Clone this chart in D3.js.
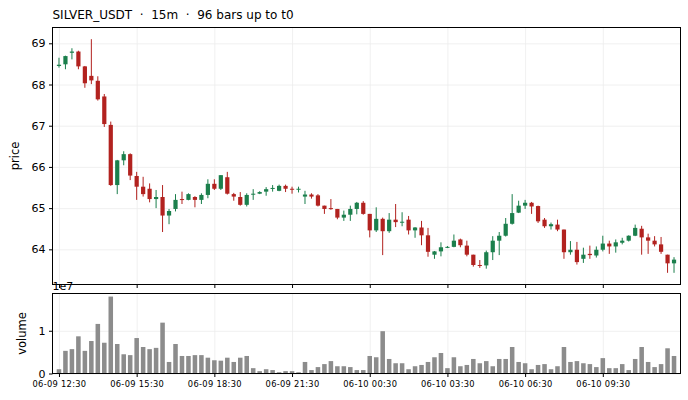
<html>

<head>
    <title>SILVER_USDT</title>
    <script src='https://d3js.org/d3.v7.min.js'></script>
    <style>
        body { margin: 0; background: #fff; }
        text { font-family: "DejaVu Sans", sans-serif; fill: #000; }
        .grid line { stroke: #ececec; stroke-width: 0.8; }
        .grid path { display: none; }
        .axis path, .axis line { stroke: #000; }
    </style>
</head>

<body>
    <svg id="chart" width="688" height="400"></svg>
    <script>
        // 15m bars, OHLC + volume
        var openP = [68.45, 68.49, 68.77, 68.80, 68.44, 68.21, 68.09, 67.71, 67.02, 65.56, 66.16, 66.31,
            65.78, 65.52, 65.47, 65.22, 65.27, 64.82, 64.98, 65.22, 65.20, 65.27, 65.20, 65.32,
            65.59, 65.47, 65.75, 65.34, 65.27, 65.08, 65.33, 65.35, 65.40, 65.47, 65.42, 65.54,
            65.47, 65.45, 65.28, 65.33, 65.31, 65.06, 65.00, 64.98, 64.77, 64.84, 64.98, 65.13,
            64.86, 64.46, 64.74, 64.44, 64.72, 64.66, 64.72, 64.46, 64.53, 64.34, 63.87, 63.95,
            64.05, 64.06, 64.24, 64.09, 63.87, 63.62, 63.61, 63.93, 64.21, 64.33, 64.62, 64.89,
            65.06, 65.13, 65.05, 64.72, 64.56, 64.60, 64.48, 63.93, 63.99, 63.77, 63.89, 63.85,
            63.99, 64.14, 64.07, 64.16, 64.21, 64.33, 64.50, 64.29, 64.21, 64.12, 63.87, 63.66];
        var highP = [68.65, 68.70, 68.88, 68.82, 68.45, 69.10, 68.20, 67.77, 67.10, 66.17, 66.38, 66.33,
            65.88, 65.76, 65.60, 65.44, 65.56, 64.98, 65.34, 65.40, 65.36, 65.29, 65.36, 65.70,
            65.70, 65.80, 65.88, 65.37, 65.39, 65.36, 65.46, 65.41, 65.51, 65.56, 65.57, 65.57,
            65.52, 65.52, 65.42, 65.36, 65.34, 65.06, 65.22, 64.98, 64.94, 65.06, 65.15, 65.17,
            64.86, 65.02, 64.77, 64.88, 65.10, 64.90, 64.81, 64.54, 64.69, 64.52, 63.96, 64.17,
            64.08, 64.36, 64.26, 64.21, 63.87, 63.74, 63.97, 64.32, 64.42, 64.76, 65.34, 65.18,
            65.20, 65.15, 65.06, 64.76, 64.65, 64.72, 64.48, 64.20, 64.18, 64.04, 64.09, 64.07,
            64.33, 64.21, 64.24, 64.28, 64.34, 64.60, 64.57, 64.38, 64.32, 64.30, 63.87, 63.81];
        var lowP = [68.41, 68.37, 68.61, 68.37, 67.92, 68.01, 67.61, 66.97, 65.54, 65.34, 66.04, 65.68,
            65.20, 65.28, 65.14, 65.00, 64.42, 64.61, 64.92, 65.10, 65.19, 65.02, 65.10, 65.24,
            65.44, 65.44, 65.33, 65.18, 65.06, 65.04, 65.20, 65.34, 65.30, 65.40, 65.41, 65.39,
            65.35, 65.38, 65.10, 65.23, 65.04, 64.86, 64.96, 64.73, 64.69, 64.69, 64.85, 64.84,
            64.29, 64.42, 63.86, 64.40, 64.54, 64.56, 64.36, 64.28, 64.10, 63.82, 63.77, 63.83,
            64.03, 64.05, 64.05, 63.83, 63.58, 63.55, 63.53, 63.74, 63.86, 64.31, 64.60, 64.88,
            64.98, 64.86, 64.64, 64.52, 64.48, 64.44, 63.77, 63.87, 63.63, 63.67, 63.77, 63.80,
            63.95, 63.89, 63.92, 64.12, 64.19, 64.32, 63.87, 63.89, 64.07, 63.89, 63.43, 63.43];
        var closeP = [68.48, 68.69, 68.80, 68.44, 68.03, 68.10, 67.64, 67.04, 65.56, 66.16, 66.31, 65.79,
            65.52, 65.34, 65.22, 65.27, 64.82, 64.93, 65.20, 65.20, 65.34, 65.20, 65.32, 65.59,
            65.47, 65.80, 65.35, 65.28, 65.08, 65.32, 65.35, 65.39, 65.46, 65.49, 65.54, 65.47,
            65.45, 65.47, 65.33, 65.28, 65.06, 64.98, 64.98, 64.77, 64.84, 64.98, 65.13, 64.86,
            64.46, 64.74, 64.44, 64.72, 64.66, 64.67, 64.46, 64.53, 64.34, 63.94, 63.95, 64.05,
            64.06, 64.21, 64.10, 63.87, 63.62, 63.60, 63.93, 64.21, 64.33, 64.62, 64.88, 65.06,
            65.13, 65.04, 64.68, 64.56, 64.61, 64.48, 63.93, 63.99, 63.69, 63.87, 63.86, 63.99,
            64.14, 64.07, 64.17, 64.21, 64.33, 64.52, 64.29, 64.21, 64.12, 63.94, 63.66, 63.75];
        var volume = [1.0e6, 5.3e6, 5.7e6, 8.7e6, 5.3e6, 7.6e6, 11.6e6, 7.2e6, 18.0e6, 6.9e6, 4.5e6, 4.3e6,
            8.3e6, 6.2e6, 5.7e6, 6.0e6, 11.9e6, 2.7e6, 6.9e6, 4.1e6, 4.1e6, 4.3e6, 4.3e6, 3.7e6,
            3.1e6, 3.0e6, 3.7e6, 2.7e6, 3.7e6, 4.1e6, 1.25e6, 0.55e6, 1.0e6, 0.8e6, 0.3e6, 0.55e6,
            0.55e6, 0.3e6, 2.7e6, 0.8e6, 1.5e6, 2.2e6, 2.9e6, 1.7e6, 1.7e6, 1.5e6, 0.8e6, 0.8e6,
            4.1e6, 3.8e6, 9.9e6, 3.4e6, 2.4e6, 2.4e6, 1.0e6, 1.7e6, 2.0e6, 2.7e6, 3.8e6, 4.8e6,
            1.25e6, 3.8e6, 1.7e6, 2.0e6, 3.4e6, 2.4e6, 2.9e6, 1.7e6, 3.4e6, 3.4e6, 6.2e6, 2.7e6,
            2.4e6, 1.0e6, 2.0e6, 2.2e6, 1.0e6, 1.7e6, 6.2e6, 2.7e6, 2.9e6, 2.4e6, 2.2e6, 1.5e6,
            3.6e6, 1.25e6, 1.25e6, 2.2e6, 0.8e6, 3.4e6, 6.2e6, 2.7e6, 1.5e6, 2.2e6, 5.9e6, 4.1e6];
        var tickIndex = [0, 12, 24, 36, 48, 60, 72, 84];
        var tickLabels = ['06-09 12:30', '06-09 15:30', '06-09 18:30', '06-09 21:30',
            '06-10 00:30', '06-10 03:30', '06-10 06:30', '06-10 09:30'];
        var priceTicks = [64, 65, 66, 67, 68, 69];
        var volTicks = [0, 1];

        var left = 52.5, right = 680.5;
        var pTop = 27.5, pBottom = 284.5;
        var vTop = 293.5, vBottom = 373.5;
        var up = '#1b7f4c', down = '#b2221f';

        var svg = d3.select('#chart');
        var x = d3.scaleLinear().domain([-1, 96]).range([left, right]);
        var bw = (x(1) - x(0)) * 0.65;

        var lo = d3.min(lowP), hi = d3.max(highP), pad = (hi - lo) * 0.05;
        var y = d3.scaleLinear().domain([lo - pad, hi + pad]).range([pBottom, pTop]);
        var vy = d3.scaleLinear().domain([0, d3.max(volume) / 1e7 * 1.04]).range([vBottom, vTop]);

        // title
        svg.append('text').attr('x', left).attr('y', 19).style('font-size', '12px')
            .style('white-space', 'pre')
            .text('SILVER_USDT  ·  15m  ·  96 bars up to t0');

        // grids
        svg.append('g').attr('class', 'grid').attr('transform', 'translate(0,' + pBottom + ')')
            .call(d3.axisBottom(x).tickValues(tickIndex).tickSize(-(pBottom - pTop)).tickFormat(''));
        svg.append('g').attr('class', 'grid').attr('transform', 'translate(' + left + ',0)')
            .call(d3.axisLeft(y).tickValues(priceTicks).tickSize(-(right - left)).tickFormat(''));
        svg.append('g').attr('class', 'grid').attr('transform', 'translate(0,' + vBottom + ')')
            .call(d3.axisBottom(x).tickValues(tickIndex).tickSize(-(vBottom - vTop)).tickFormat(''));
        svg.append('g').attr('class', 'grid').attr('transform', 'translate(' + left + ',0)')
            .call(d3.axisLeft(vy).tickValues(volTicks).tickSize(-(right - left)).tickFormat(''));

        var idx = d3.range(openP.length);

        // candles
        var c = svg.append('g');
        c.selectAll('line.wick').data(idx).enter().append('line')
            .attr('x1', function (i) { return x(i); })
            .attr('x2', function (i) { return x(i); })
            .attr('y1', function (i) { return y(highP[i]); })
            .attr('y2', function (i) { return y(lowP[i]); })
            .attr('stroke', function (i) { return closeP[i] >= openP[i] ? up : down; })
            .attr('stroke-width', 1);
        c.selectAll('rect').data(idx).enter().append('rect')
            .attr('x', function (i) { return x(i) - bw / 2; })
            .attr('width', bw)
            .attr('y', function (i) { return y(Math.max(openP[i], closeP[i])); })
            .attr('height', function (i) { return Math.max(1, Math.abs(y(openP[i]) - y(closeP[i]))); })
            .attr('fill', function (i) { return closeP[i] >= openP[i] ? up : down; });

        // volume bars
        var vw = (x(1) - x(0)) * 0.7;
        svg.append('g').selectAll('rect').data(idx).enter().append('rect')
            .attr('x', function (i) { return x(i) - vw / 2; })
            .attr('width', vw)
            .attr('y', function (i) { return vy(volume[i] / 1e7); })
            .attr('height', function (i) { return vBottom - vy(volume[i] / 1e7); })
            .attr('fill', '#8c8c8c');

        // axes
        svg.append('g').attr('class', 'axis').attr('transform', 'translate(' + left + ',0)')
            .call(d3.axisLeft(y).tickValues(priceTicks).tickSize(3.5).tickPadding(3.5).tickFormat(d3.format('d')))
            .call(function (g) { g.select('.domain').remove(); g.selectAll('text').style('font-size', '11px'); });
        svg.append('g').attr('class', 'axis').attr('transform', 'translate(0,' + pBottom + ')')
            .call(d3.axisBottom(x).tickValues(tickIndex).tickSize(3.5).tickFormat(''))
            .call(function (g) { g.select('.domain').remove(); });
        svg.append('g').attr('class', 'axis').attr('transform', 'translate(' + left + ',0)')
            .call(d3.axisLeft(vy).tickValues(volTicks).tickSize(3.5).tickPadding(3.5).tickFormat(d3.format('d')))
            .call(function (g) { g.select('.domain').remove(); g.selectAll('text').style('font-size', '11px'); });
        svg.append('g').attr('class', 'axis').attr('transform', 'translate(0,' + vBottom + ')')
            .call(d3.axisBottom(x).tickValues(tickIndex).tickSize(3.5).tickPadding(4.5)
                .tickFormat(function (d, i) { return tickLabels[i]; }))
            .call(function (g) {
                g.select('.domain').remove();
                g.selectAll('text').style('font-size', '8.3px').style('letter-spacing', '0.3px');
            });

        // frames
        svg.append('rect').attr('x', left).attr('y', pTop).attr('width', right - left).attr('height', pBottom - pTop)
            .attr('fill', 'none').attr('stroke', '#000').attr('stroke-width', 1);
        svg.append('rect').attr('x', left).attr('y', vTop).attr('width', right - left).attr('height', vBottom - vTop)
            .attr('fill', 'none').attr('stroke', '#000').attr('stroke-width', 1);

        // labels
        svg.append('text').attr('transform', 'translate(19,' + ((pTop + pBottom) / 2) + ') rotate(-90)')
            .attr('text-anchor', 'middle').style('font-size', '11.5px').text('price');
        svg.append('text').attr('transform', 'translate(26,' + ((vTop + vBottom) / 2) + ') rotate(-90)')
            .attr('text-anchor', 'middle').style('font-size', '11.5px').text('volume');
        svg.append('text').attr('x', left).attr('y', 289.5).style('font-size', '11px').text('1e7');
    </script>
</body>

</html>
